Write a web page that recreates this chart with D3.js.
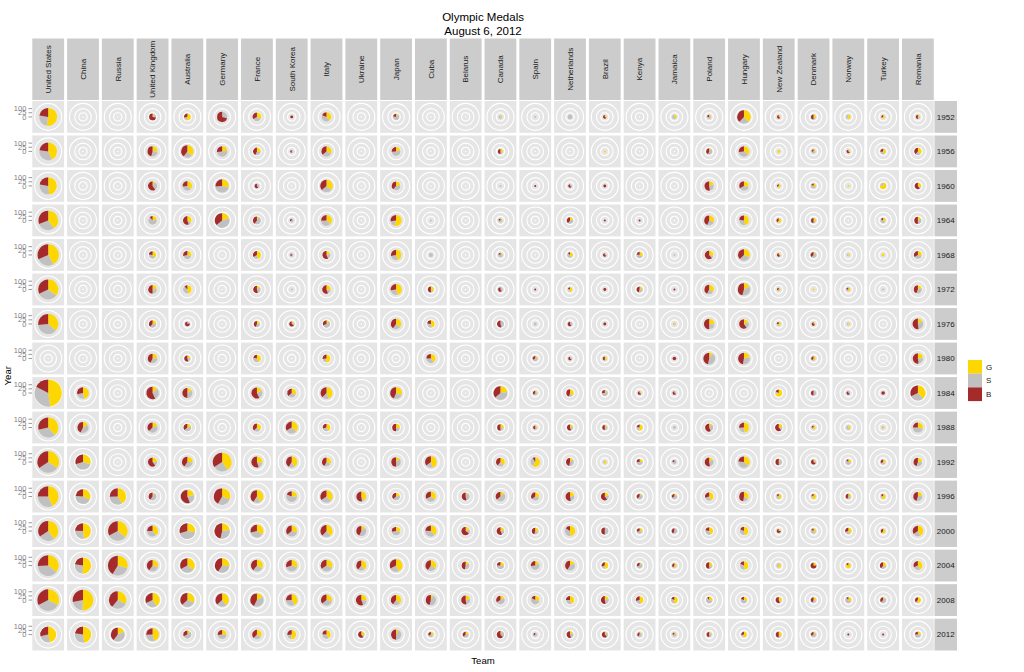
<!DOCTYPE html>
<html>
<head>
<meta charset="utf-8">
<script src="https://cdnjs.cloudflare.com/ajax/libs/d3/7.8.5/d3.min.js"></script>
<style>
  body { margin: 0; background: #fff; }
  text { font-family: "Liberation Sans", Arial, sans-serif; }
</style>
</head>
<body>
<div class="canvas"></div>
<script>
// facet columns and rows
const teams = ["United States", "China", "Russia", "United Kingdom", "Australia", "Germany",
  "France", "South Korea", "Italy", "Ukraine", "Japan", "Cuba", "Belarus", "Canada", "Spain",
  "Netherlands", "Brazil", "Kenya", "Jamaica", "Poland", "Hungary", "New Zealand", "Denmark",
  "Norway", "Turkey", "Romania"];
const years = [1952, 1956, 1960, 1964, 1968, 1972, 1976, 1980, 1984, 1988, 1992, 1996, 2000, 2004, 2008, 2012];

// medal counts, one row per team (same order as teams), one value per year
const gold = [
  [40,32,34,36,45,33,34,0,83,36,37,44,37,36,36,28],
  [0,0,0,0,0,0,0,0,15,5,16,16,28,32,51,30],
  [0,0,0,0,0,0,0,0,0,0,0,26,32,27,23,8],
  [1,6,2,4,5,4,3,5,5,5,5,1,11,9,19,18],
  [6,13,8,6,5,8,0,2,4,3,7,9,16,17,14,2],
  [0,6,12,10,0,0,0,0,0,0,33,20,13,13,16,5],
  [6,4,0,1,7,2,2,6,5,6,8,15,13,11,7,7],
  [0,0,0,0,0,0,1,0,6,12,12,7,8,9,13,10],
  [8,8,13,10,3,5,2,8,14,6,6,13,13,10,8,7],
  [0,0,0,0,0,0,0,0,0,0,0,9,3,9,7,3],
  [1,4,4,16,11,13,9,0,10,4,3,3,5,16,9,2],
  [0,0,0,0,0,3,6,8,0,0,14,9,11,9,2,2],
  [0,0,0,0,0,0,0,0,0,0,0,1,3,2,4,2],
  [1,2,0,1,1,0,0,0,10,3,7,3,3,3,3,1],
  [0,0,0,0,0,0,0,1,1,1,13,5,3,3,5,0],
  [0,0,0,2,3,3,0,0,5,2,2,4,12,4,7,2],
  [1,1,0,0,0,0,0,2,1,1,2,3,0,5,3,1],
  [0,0,0,0,3,2,0,0,1,5,2,1,2,1,6,1],
  [2,0,0,0,0,0,1,0,0,0,0,1,0,2,6,1],
  [1,1,4,7,5,7,7,3,0,2,3,7,6,3,3,1],
  [16,9,6,10,10,6,4,7,0,11,11,7,8,8,3,4],
  [1,2,2,3,1,1,2,0,8,3,1,3,1,3,3,3],
  [2,1,2,2,1,1,1,2,0,2,1,4,2,2,2,1],
  [3,1,1,0,1,2,1,0,0,2,2,2,4,5,3,0],
  [2,3,7,2,2,0,0,0,0,1,2,4,3,3,1,0],
  [1,5,3,2,4,3,4,6,20,7,4,4,11,8,4,2]
];
const silver = [
  [19,25,21,26,28,31,35,0,61,31,34,32,24,39,38,15],
  [0,0,0,0,0,0,0,0,8,11,22,22,16,17,21,19],
  [0,0,0,0,0,0,0,0,0,0,0,21,28,27,21,18],
  [2,7,6,12,5,5,5,7,11,10,3,8,10,9,13,11],
  [2,8,8,2,7,7,1,2,8,6,9,9,25,16,15,9],
  [7,13,19,22,0,0,0,0,0,0,21,18,17,16,10,9],
  [6,4,2,8,3,4,3,5,7,4,5,7,14,9,16,6],
  [0,1,0,2,1,1,1,0,6,10,5,15,10,12,10,4],
  [9,8,10,10,4,3,7,3,6,4,5,10,8,11,10,6],
  [0,0,0,0,0,0,0,0,0,0,0,2,10,5,5,1],
  [6,10,7,5,7,8,6,0,8,3,8,6,8,9,6,10],
  [0,0,0,1,4,1,4,7,0,0,6,8,11,7,11,2],
  [0,0,0,0,0,0,0,0,0,0,0,6,3,6,5,3],
  [2,1,1,2,3,2,5,0,18,2,4,11,3,6,9,4],
  [1,0,0,0,0,0,2,3,2,1,7,6,3,11,10,2],
  [5,0,1,4,3,1,2,1,2,2,6,5,9,9,5,3],
  [0,0,0,0,1,0,0,0,5,2,1,3,6,2,4,2],
  [0,0,0,0,4,3,0,0,0,2,4,4,3,4,4,2],
  [3,0,0,0,1,0,1,0,1,2,3,3,4,1,3,2],
  [2,4,6,6,2,5,6,14,0,5,6,5,5,2,6,2],
  [10,10,8,7,10,13,5,10,0,6,12,4,6,6,5,1],
  [0,0,0,0,0,1,1,0,1,2,4,2,0,2,1,1],
  [1,2,3,1,4,0,0,1,3,1,1,1,3,0,2,3],
  [2,0,0,0,1,1,1,0,1,3,4,2,3,0,5,0],
  [0,2,2,3,0,1,0,0,0,1,2,1,0,3,4,0],
  [1,3,1,4,6,6,9,6,16,11,6,7,6,5,1,4]
];
const bronze = [
  [17,17,16,28,34,30,25,0,30,27,37,25,32,26,36,17],
  [0,0,0,0,0,0,0,0,9,12,16,12,14,14,28,14],
  [0,0,0,0,0,0,0,0,0,0,0,16,29,38,28,17],
  [8,11,12,2,3,9,5,9,21,9,12,6,7,12,15,10],
  [3,14,6,10,5,2,4,5,12,5,11,23,17,16,17,5],
  [17,7,11,18,0,0,0,0,0,0,28,27,26,20,15,5],
  [6,6,3,6,5,7,4,3,16,6,16,15,11,13,17,8],
  [2,1,0,1,1,0,4,0,7,11,12,5,10,9,8,5],
  [4,9,13,7,9,10,4,4,12,4,8,12,13,11,10,4],
  [0,0,0,0,0,0,0,0,0,0,0,12,10,9,15,6],
  [2,5,7,8,7,8,10,0,14,7,11,5,5,12,10,12],
  [0,0,0,0,0,4,3,5,0,0,11,8,7,11,11,2],
  [0,0,0,0,0,0,0,0,0,0,0,8,11,7,10,3],
  [0,3,0,1,1,3,6,0,16,5,7,8,8,3,6,8],
  [0,0,1,0,0,1,0,2,2,2,2,6,5,5,3,1],
  [0,0,2,4,1,1,3,2,6,5,7,10,4,9,4,6],
  [2,0,2,1,2,2,2,2,2,3,0,9,6,3,8,5],
  [0,0,0,1,2,4,0,0,2,2,2,3,2,2,4,2],
  [0,0,0,0,0,1,0,3,2,0,1,2,3,2,2,1],
  [1,4,11,10,11,9,13,15,0,9,10,5,3,5,1,3],
  [16,7,7,5,12,16,13,15,0,6,7,10,3,3,2,2],
  [2,0,1,2,2,1,1,0,2,8,5,1,3,0,5,4],
  [3,1,1,3,3,0,2,2,3,1,4,1,1,6,3,2],
  [0,2,0,0,0,1,0,0,2,0,1,3,3,1,1,1],
  [1,2,0,1,0,0,0,0,3,0,2,1,2,4,3,1],
  [2,5,6,6,5,7,14,13,17,6,8,9,9,6,3,2]
];
const medals = ["G", "S", "B"];
const medalColors = ["#FFD700", "#C0C0C0", "#A52A2A"];
const radialBreaks = [0, 25, 100];

const dims = {width: 1024, height: 672};

const svg = d3.select(".canvas").append("svg")
    .attr("width", dims.width)
    .attr("height", dims.height);

// facet scales
const x = d3.scaleBand().domain(teams).range([32.3, 933.8]).paddingInner(0.086);
const y = d3.scaleBand().domain(years).range([101, 650.5]).paddingInner(0.078);
const bw = x.bandwidth(), bh = y.bandwidth();

const color = d3.scaleOrdinal().domain(medals).range(medalColors);
const rPie = d3.scaleSqrt().domain([0, 174]).range([0, 13.6]);   // pie radius from total medals
const rAxis = d3.scaleSqrt().domain([0, 100]).range([0, 8.3]);   // radial guide circles / labels

const pie = d3.pie().sort(null).value(d => d.count);
const arcPath = d3.arc().innerRadius(0);

// one record per panel
const cells = [];
teams.forEach((team, i) => {
    years.forEach((year, j) => {
        const counts = [gold[i][j], silver[i][j], bronze[i][j]];
        cells.push({team, year, total: d3.sum(counts),
            parts: medals.map((m, k) => ({medal: m, count: counts[k]}))});
    });
});

// title
svg.append("text").attr("x", (32.3 + 933.8) / 2).attr("y", 21)
    .attr("text-anchor", "middle").attr("font-size", 11.5).attr("fill", "#000")
    .text("Olympic Medals");
svg.append("text").attr("x", (32.3 + 933.8) / 2).attr("y", 35)
    .attr("text-anchor", "middle").attr("font-size", 11.5).attr("fill", "#000")
    .text("August 6, 2012");

// top strips
const topStrips = svg.append("g").selectAll("g").data(teams).enter().append("g")
    .attr("transform", d => `translate(${x(d)},38.5)`);
topStrips.append("rect").attr("width", bw).attr("height", 61.5).attr("fill", "#CCCCCC");
topStrips.append("text")
    .attr("transform", `translate(${bw / 2 + 2.8},30.75) rotate(-90)`)
    .attr("text-anchor", "middle").attr("font-size", 8).attr("fill", "#1A1A1A")
    .text(d => d);

// right strips
const rightStrips = svg.append("g").selectAll("g").data(years).enter().append("g")
    .attr("transform", d => `translate(934.5,${y(d)})`);
rightStrips.append("rect").attr("width", 22.5).attr("height", bh).attr("fill", "#CCCCCC");
rightStrips.append("text")
    .attr("x", 11.25).attr("y", bh / 2 + 2.9)
    .attr("text-anchor", "middle").attr("font-size", 8).attr("fill", "#1A1A1A")
    .text(d => d);

// panels
const panels = svg.append("g").selectAll("g").data(cells).enter().append("g")
    .attr("transform", d => `translate(${x(d.team) + bw / 2},${y(d.year) + bh / 2})`);

panels.append("rect")
    .attr("x", -bw / 2).attr("y", -bh / 2)
    .attr("width", bw).attr("height", bh)
    .attr("fill", "#E5E5E5");

// radial grid circles
panels.selectAll(".ring").data([rAxis(25), rAxis(100), bw * 0.425]).enter().append("circle")
    .attr("class", "ring")
    .attr("r", d => d)
    .attr("fill", "none").attr("stroke", "#fff").attr("stroke-width", 1.1);
panels.append("circle").attr("r", 0.7).attr("fill", "#fff");

// pies
panels.selectAll("path").data(d => pie(d.parts).map(p => ({...p, total: d.total})))
    .enter().append("path")
    .attr("d", d => arcPath.outerRadius(rPie(d.total))(d))
    .attr("fill", d => color(d.data.medal));

// radial axis on the left of each row
const axisRows = svg.append("g").selectAll("g").data(years).enter().append("g")
    .attr("transform", d => `translate(32.3,${y(d) + bh / 2})`);
axisRows.selectAll("line").data(radialBreaks).enter().append("line")
    .attr("x1", -3.8).attr("x2", -0.3)
    .attr("y1", d => -rAxis(d)).attr("y2", d => -rAxis(d))
    .attr("stroke", "#7F7F7F").attr("stroke-width", 0.8);
axisRows.selectAll("text").data(radialBreaks).enter().append("text")
    .attr("x", -6).attr("y", d => -rAxis(d) + 2.6)
    .attr("text-anchor", "end").attr("font-size", 7.5).attr("fill", "#7F7F7F")
    .text(d => d);

// axis titles
svg.append("text").attr("transform", `translate(10.5,${(101 + 650.5) / 2}) rotate(-90)`)
    .attr("text-anchor", "middle").attr("font-size", 9.6).attr("fill", "#000").text("Year");
svg.append("text").attr("x", (32.3 + 933.8) / 2).attr("y", 664)
    .attr("text-anchor", "middle").attr("font-size", 9.6).attr("fill", "#000").text("Team");

// legend
const legend = svg.append("g").attr("transform", "translate(968,360)");
const keys = legend.selectAll("g").data(medals).enter().append("g")
    .attr("transform", (d, i) => `translate(0,${i * 13.7})`);
keys.append("rect").attr("width", 14).attr("height", 13.7).attr("fill", d => color(d));
keys.append("text").attr("x", 18).attr("y", 9.6)
    .attr("font-size", 8).attr("fill", "#1A1A1A").text(d => d);
</script>
</body>
</html>
